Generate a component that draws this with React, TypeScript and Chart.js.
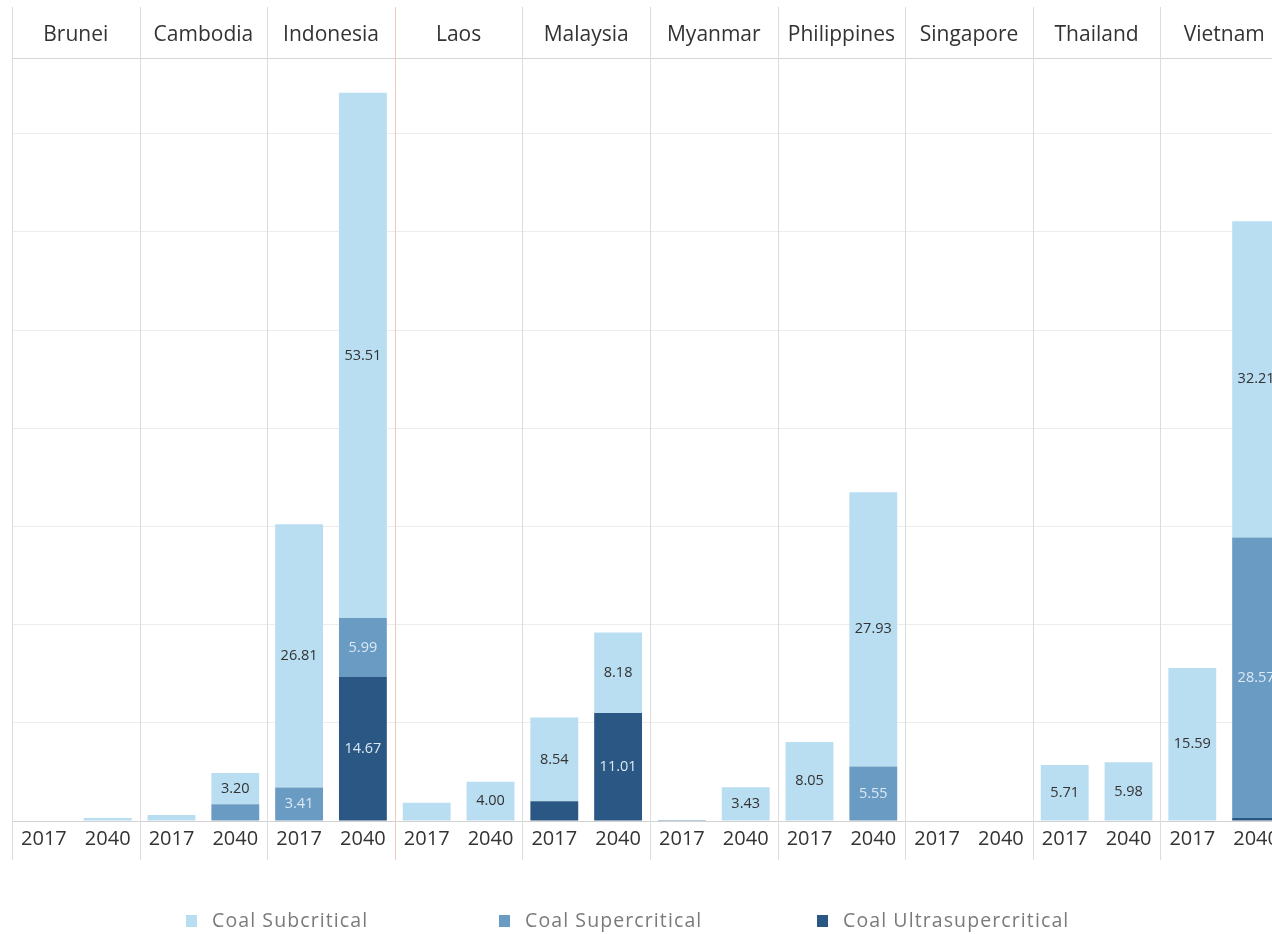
import React, { useEffect, useRef } from "react";
import { Chart, registerables } from "chart.js";

Chart.register(...registerables);

// ---- data ----
const countries = [
  "Brunei", "Cambodia", "Indonesia", "Laos", "Malaysia",
  "Myanmar", "Philippines", "Singapore", "Thailand", "Vietnam",
];
const years = ["2017", "2040"];
const seriesNames = ["Coal Subcritical", "Coal Supercritical", "Coal Ultrasupercritical"];
const seriesColors = ["#b9ddf1", "#6a9bc3", "#2a5783"];

const subcritical2017 = [0, 0.6, 26.81, 1.85, 8.54, 0, 8.05, 0, 5.71, 15.59];
const subcritical2040 = [0.3, 3.2, 53.51, 4.0, 8.18, 3.43, 27.93, 0, 5.98, 32.21];
const supercritical2017 = [0, 0, 3.41, 0, 0, 0.1, 0, 0, 0, 0];
const supercritical2040 = [0, 1.7, 5.99, 0, 0, 0, 5.55, 0, 0, 28.57];
const ultra2017 = [0, 0, 0, 0, 2.0, 0, 0, 0, 0, 0];
const ultra2040 = [0, 0, 14.67, 0, 11.01, 0, 0, 0, 0, 0.3];

const yMax = 77.7;
const yStep = 10;
const labelThreshold = 3;

const interleave = (a: number[], b: number[]) => a.flatMap((v, i) => [v, b[i]]);
const categoryLabels = countries.flatMap(() => years);
const seriesData = [
  interleave(subcritical2017, subcritical2040),
  interleave(supercritical2017, supercritical2040),
  interleave(ultra2017, ultra2040),
];
// stacking order: bottom first (ultra), then super, then sub on top
const stackOrder = [2, 1, 0];

const FONT = '"Open Sans", "Noto Sans", sans-serif';

const facetPlugin = {
  id: "facets",
  beforeDatasetsDraw(chart: any) {
    const { ctx, scales } = chart;
    const xs = scales.x;
    const half = (xs.getPixelForValue(1) - xs.getPixelForValue(0)) / 2;
    ctx.save();
    ctx.lineWidth = 1;
    for (let i = 0; i <= countries.length; i++) {
      const x = Math.round(xs.getPixelForValue(i * years.length) - half) + 0.5;
      ctx.strokeStyle = i === 3 ? "#f0c9b9" : "#dcdcdc";
      ctx.beginPath();
      ctx.moveTo(x, 7);
      ctx.lineTo(x, 860);
      ctx.stroke();
    }
    ctx.restore();
  },
  afterDatasetsDraw(chart: any) {
    const { ctx } = chart;
    ctx.save();
    ctx.font = `14.5px ${FONT}`;
    ctx.textAlign = "center";
    ctx.textBaseline = "middle";
    chart.data.datasets.forEach((ds: any, di: number) => {
      const meta = chart.getDatasetMeta(di);
      const seriesIdx = stackOrder[di];
      meta.data.forEach((bar: any, j: number) => {
        const v = ds.data[j];
        if (v < labelThreshold) return;
        ctx.fillStyle = seriesIdx === 0 ? "#333333" : "#dbe9f6";
        ctx.fillText(v.toFixed(2), bar.x, (bar.y + bar.base) / 2);
      });
    });
    ctx.restore();
  },
  afterDraw(chart: any) {
    const { ctx, scales } = chart;
    const xs = scales.x;
    ctx.save();
    // country headers
    ctx.font = `21px ${FONT}`;
    ctx.fillStyle = "#333333";
    ctx.textAlign = "center";
    ctx.textBaseline = "middle";
    countries.forEach((c, i) => {
      const a = xs.getPixelForValue(i * 2);
      const b = xs.getPixelForValue(i * 2 + 1);
      ctx.fillText(c, (a + b) / 2, 35);
    });
    // legend (in series order)
    const legendX = [186, 499, 817];
    ctx.textAlign = "left";
    ctx.font = `19.5px ${FONT}`;
    try { (ctx as any).letterSpacing = "1.1px"; } catch (e) {}
    seriesNames.forEach((name, i) => {
      ctx.fillStyle = seriesColors[i];
      ctx.fillRect(legendX[i], 915, 11, 12);
      ctx.fillStyle = "#7a7a7a";
      ctx.fillText(name, legendX[i] + 26, 921);
    });
    ctx.restore();
  },
};

export default function App() {
  const ref = useRef<HTMLCanvasElement | null>(null);

  useEffect(() => {
    if (!ref.current) return;
    const chart = new Chart(ref.current, {
      type: "bar",
      data: {
        labels: categoryLabels,
        datasets: stackOrder.map((i) => ({
          label: seriesNames[i],
          data: seriesData[i],
          backgroundColor: seriesColors[i],
          borderWidth: 0,
          categoryPercentage: 1,
          barPercentage: 0.75,
        })),
      },
      options: {
        responsive: false,
        animation: false,
        layout: { padding: { left: 12, right: 12, top: 58, bottom: 77 } },
        plugins: {
          legend: { display: false },
          tooltip: { enabled: false },
        },
        scales: {
          x: {
            stacked: true,
            offset: true,
            grid: { display: false, drawTicks: false },
            border: { display: false },
            ticks: {
              color: "#333333",
              font: { family: FONT, size: 20 },
              padding: 6,
              maxRotation: 0,
              autoSkip: false,
            },
          },
          y: {
            stacked: true,
            min: 0,
            max: yMax,
            grid: {
              drawTicks: false,
              color: (ctx: any) =>
                ctx.tick && ctx.tick.value === 0
                  ? "#d2d2d2"
                  : ctx.tick && ctx.tick.value >= yMax
                  ? "#d6d6d6"
                  : "#ececec",
            },
            border: { display: false },
            ticks: { display: false, stepSize: yStep },
          },
        },
      },
      plugins: [facetPlugin],
    });
    return () => chart.destroy();
  }, []);

  return (
    <div
      style={{
        position: "absolute",
        left: 0,
        top: 0,
        width: 1272,
        height: 934,
        overflow: "hidden",
        background: "#ffffff",
      }}
    >
      <canvas ref={ref} width={1300} height={934} style={{ display: "block" }} />
    </div>
  );
}
